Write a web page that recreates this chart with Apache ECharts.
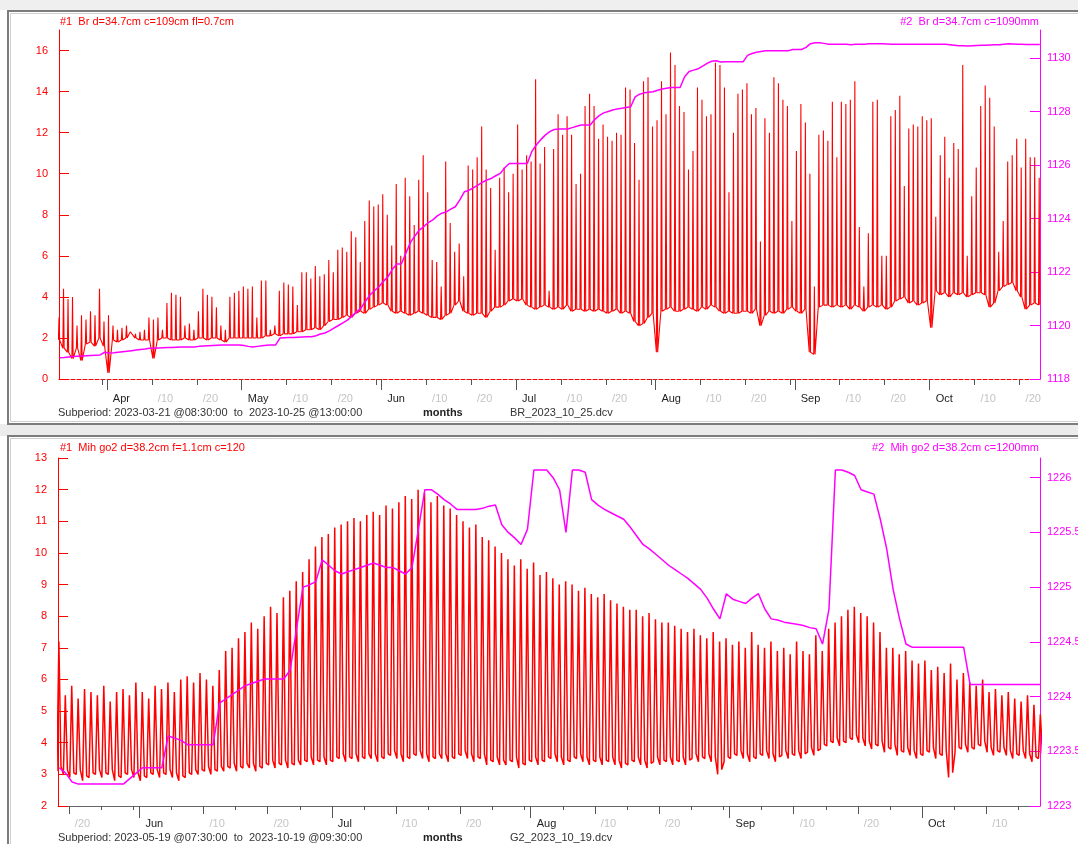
<!DOCTYPE html>
<html>
<head>
<meta charset="utf-8">
<title>Br / Mih go2</title>
<script src="https://cdn.jsdelivr.net/npm/echarts@6/dist/echarts.min.js"></script>
<style>
html, body { margin: 0; padding: 0; background: #fff; }
#chart { width: 1078px; height: 844px; }
</style>
</head>
<body>
<div id="chart"></div>
<script>
// ---- top panel (Br), one value per day from 2023-03-21 ----
const topPeak = [
  3.0, 4.4, 3.9, 4.0, 2.6, 3.1, 2.9, 3.3, 3.1, 4.4, 2.8,
  3.1, 2.6, 2.4, 2.5, 2.6, 2.3, 2.2, 2.3, 2.4, 3.0,
  2.9, 3.0, 2.4, 3.7, 4.2, 4.1, 4.0, 2.6, 2.7, 2.4,
  3.3, 4.4, 4.1, 4.0, 3.5, 2.6, 2.4, 4.0, 4.2, 4.3,
  4.5, 4.4, 4.5, 3.0, 4.8, 4.8, 2.4, 2.6, 4.3, 4.7,
  4.6, 4.5, 3.6, 5.2, 5.2, 4.9, 5.5, 5.0, 5.1, 5.8,
  5.2, 6.3, 6.4, 6.2, 7.2, 6.9, 5.7, 7.7, 8.7, 8.4,
  8.5, 9.0, 8.0, 6.5, 9.5, 6.0, 9.8, 8.9, 7.5, 9.7,
  10.9, 9.1, 5.8, 5.7, 4.5, 10.6, 7.6, 6.2, 6.6, 5.0,
  10.4, 10.2, 10.8, 12.3, 10.2, 9.3, 6.3, 9.8, 10.3, 9.1,
  10.0, 12.4, 10.2, 10.9, 10.6, 14.6, 10.5, 11.3, 4.3, 11.2,
  12.9, 11.9, 12.8, 11.9, 9.5, 10.0, 13.3, 13.9, 13.3, 11.7,
  12.4, 11.8, 11.6, 12.0, 11.9, 14.2, 14.1, 11.5, 9.7, 14.5,
  14.7, 12.3, 12.6, 14.5, 12.9, 15.9, 15.3, 13.3, 13.0, 10.2,
  11.1, 14.2, 13.6, 12.8, 12.9, 15.4, 15.3, 14.2, 9.1, 12.0,
  13.9, 14.1, 14.4, 12.9, 13.2, 6.7, 12.7, 12.0, 14.7, 14.4,
  13.6, 13.3, 7.7, 11.1, 13.4, 12.5, 10.0, 4.5, 11.9, 12.1,
  11.6, 13.5, 10.8, 13.5, 13.4, 13.6, 14.5, 7.4, 4.5, 7.1,
  13.5, 13.6, 6.0, 6.0, 12.8, 13.1, 13.8, 9.4, 12.2, 12.4,
  12.3, 12.8, 12.6, 12.7, 7.9, 10.9, 11.8, 9.8, 11.5, 11.2,
  15.3, 6.0, 8.9, 10.3, 13.3, 14.3, 13.7, 12.3, 6.2, 7.7,
  10.6, 10.9, 11.7, 10.3, 11.7, 10.8, 10.8, 9.8
];
const topTrough = [
  1.9, 1.5, 1.3, 1.0, 1.5, 0.9, 1.7, 1.8, 1.6, 2.0, 1.6,
  0.3, 1.9, 1.8, 1.9, 2.0, 2.3, 2.0, 1.9, 1.9, 1.9,
  1.0, 1.9, 2.0, 2.0, 1.9, 1.9, 1.9, 2.0, 1.9, 1.9,
  2.0, 2.0, 1.9, 2.0, 2.0, 1.9, 1.8, 2.0, 2.0, 2.0,
  2.0, 2.0, 2.0, 2.0, 2.0, 2.1, 2.1, 2.2, 2.1, 2.2,
  2.2, 2.2, 2.3, 2.3, 2.4, 2.4, 2.5, 2.4, 2.6, 2.8,
  2.9, 2.9, 3.0, 3.1, 3.0, 3.2, 3.3, 3.2, 3.4, 3.5,
  3.6, 3.7, 3.6, 3.3, 3.2, 3.3, 3.2, 3.1, 3.2, 3.3,
  3.2, 3.1, 3.0, 3.0, 2.9, 3.1, 3.2, 3.6, 3.8, 3.3,
  3.2, 3.1, 3.2, 3.2, 3.0, 3.3, 3.5, 3.5, 3.6, 3.8,
  3.9, 3.8, 3.9, 3.6, 3.5, 3.4, 3.5, 3.6, 3.5, 3.4,
  3.5, 3.4, 3.6, 3.3, 3.4, 3.4, 3.3, 3.4, 3.3, 3.4,
  3.3, 3.2, 3.3, 3.4, 3.2, 3.3, 3.2, 2.8, 2.6, 2.7,
  3.0, 3.2, 1.3, 3.3, 3.4, 3.5, 3.3, 3.3, 3.4, 3.5,
  3.4, 3.3, 3.5, 3.4, 3.6, 3.5, 3.3, 3.2, 3.3, 3.2,
  3.2, 3.3, 3.3, 3.2, 3.4, 2.6, 3.1, 3.3, 3.2, 3.3,
  3.2, 3.4, 3.5, 3.3, 3.2, 3.4, 1.3, 1.2, 3.5, 3.6,
  3.6, 3.5, 3.6, 3.5, 3.6, 3.4, 3.6, 3.5, 3.3, 3.5,
  3.6, 3.5, 3.6, 3.4, 3.5, 3.8, 3.9, 4.0, 3.7, 3.8,
  3.6, 3.7, 3.8, 2.5, 4.3, 4.1, 4.2, 4.0, 4.2, 4.1,
  4.2, 4.0, 4.1, 4.2, 4.2, 4.1, 3.5, 3.7, 4.3, 4.5,
  4.6, 4.7, 4.3, 4.0, 3.4, 3.6, 3.7, 3.6
];
const topRight = [
  1118.79, 1118.8, 1118.82, 1118.84, 1118.85, 1118.86, 1118.87, 1118.88, 1118.89, 1118.9, 1119.0,
  1118.97, 1118.98, 1119.0, 1119.02, 1119.04, 1119.06, 1119.08, 1119.1, 1119.12, 1119.15,
  1119.15, 1119.16, 1119.17, 1119.18, 1119.18, 1119.19, 1119.2, 1119.2, 1119.2, 1119.2,
  1119.22, 1119.23, 1119.24, 1119.25, 1119.26, 1119.27, 1119.27, 1119.27, 1119.27, 1119.27,
  1119.25, 1119.22, 1119.2, 1119.22, 1119.24, 1119.26, 1119.27, 1119.27, 1119.53, 1119.54,
  1119.55, 1119.55, 1119.56, 1119.57, 1119.58, 1119.58, 1119.62, 1119.68, 1119.72, 1119.8,
  1119.9, 1120.0, 1120.1, 1120.2, 1120.35, 1120.5, 1120.65, 1120.9, 1121.14, 1121.3,
  1121.45, 1121.65, 1121.82, 1122.1, 1122.3, 1122.3, 1122.7, 1123.1, 1123.35, 1123.57,
  1123.7, 1123.85, 1123.95, 1124.1, 1124.2, 1124.25, 1124.35, 1124.44, 1124.7, 1125.0,
  1125.05, 1125.15, 1125.25, 1125.35, 1125.44, 1125.5, 1125.6, 1125.69, 1125.9, 1126.06,
  1126.06, 1126.06, 1126.06, 1126.06, 1126.5, 1126.75, 1126.95, 1127.12, 1127.25, 1127.33,
  1127.35, 1127.35, 1127.35, 1127.4, 1127.45, 1127.5, 1127.5, 1127.5, 1127.7, 1127.85,
  1127.95, 1128.0, 1128.06, 1128.1, 1128.12, 1128.15, 1128.18, 1128.55, 1128.65, 1128.7,
  1128.72, 1128.74, 1128.8, 1128.84, 1128.87, 1128.9, 1128.9, 1128.9, 1129.3, 1129.5,
  1129.55, 1129.6, 1129.7, 1129.8, 1129.88, 1129.9, 1129.85, 1129.86, 1129.86, 1129.86,
  1129.86, 1129.86, 1130.1, 1130.17, 1130.22, 1130.25, 1130.27, 1130.27, 1130.27, 1130.27,
  1130.27, 1130.27, 1130.32, 1130.32, 1130.32, 1130.4, 1130.54, 1130.57, 1130.57, 1130.55,
  1130.52, 1130.52, 1130.52, 1130.52, 1130.52, 1130.5, 1130.52, 1130.52, 1130.52, 1130.54,
  1130.54, 1130.54, 1130.54, 1130.53, 1130.52, 1130.52, 1130.52, 1130.52, 1130.52, 1130.52,
  1130.52, 1130.52, 1130.52, 1130.52, 1130.52, 1130.52, 1130.52, 1130.5, 1130.48, 1130.46,
  1130.46, 1130.45, 1130.46, 1130.47, 1130.48, 1130.48, 1130.49, 1130.5, 1130.5, 1130.52,
  1130.54, 1130.53, 1130.52, 1130.52, 1130.51, 1130.51, 1130.51, 1130.51
];

// ---- bottom panel (Mih go2), one value per day from 2023-05-19 ----
const botPeak = [
  7.2, 5.5, 5.8, 5.4, 5.7, 5.6, 5.5, 5.8, 5.3, 5.6,
  5.7, 5.5, 5.9, 5.6, 5.4, 5.8, 5.7, 5.9, 5.6, 6.0,
  6.1, 5.9, 6.2, 6.0, 5.8, 6.3, 6.9, 7.0, 7.3, 7.5,
  7.8, 7.6, 8.0, 8.3, 8.1, 8.6, 8.8, 9.1, 9.4, 9.8,
  10.2, 10.5, 10.6, 10.8, 10.9, 11.0, 11.1, 11.0, 11.2, 11.3,
  11.2, 11.5, 11.4, 11.6, 11.8, 11.7, 12.0, 11.9, 11.6, 11.8,
  11.5, 11.4, 11.2, 11.0, 10.8, 10.9, 10.5, 10.4, 10.2, 10.0,
  9.8, 9.6, 9.8, 9.5, 9.7, 9.3, 9.4, 9.2, 9.0, 9.1,
  9.0, 8.8, 8.9, 8.7, 8.6, 8.7, 8.5, 8.4, 8.3, 8.2,
  8.2, 8.0, 8.1, 7.9, 7.8, 7.8, 7.7, 7.6, 7.5, 7.6,
  7.4, 7.3, 7.5, 7.2, 7.3, 7.1, 7.2, 7.0, 7.5, 7.1,
  7.0, 7.2, 6.9, 7.0, 6.8, 7.2, 6.9, 6.8, 7.4, 6.9,
  7.6, 7.8, 8.0, 8.2, 8.3, 8.1, 8.0, 7.8, 7.5, 7.0,
  7.0, 6.8, 6.9, 6.6, 6.5, 6.6, 6.3, 6.4, 6.2, 6.5,
  6.0, 6.2, 5.9, 5.8, 6.0, 5.6, 5.7, 5.5, 5.6, 5.4,
  5.3, 5.5, 5.2, 4.9
];
const botTrough = [
  3.1, 3.0, 2.9, 3.0, 2.8, 2.9, 3.0, 2.9, 3.0, 2.8,
  2.9, 3.0, 2.9, 2.8, 2.9, 3.0, 2.9, 3.0, 2.9, 2.8,
  2.9, 3.0, 3.0, 3.1, 3.0, 3.1, 3.1, 3.2, 3.1, 3.2,
  3.2, 3.1, 3.2, 3.3, 3.2, 3.3, 3.2, 3.3, 3.3, 3.4,
  3.3, 3.4, 3.3, 3.4, 3.5, 3.4, 3.5, 3.4, 3.5, 3.5,
  3.4, 3.5, 3.6, 3.5, 3.4, 3.5, 3.6, 3.5, 3.4, 3.5,
  3.5, 3.4, 3.5, 3.6, 3.5, 3.4, 3.5, 3.3, 3.4, 3.3,
  3.3, 3.4, 3.2, 3.3, 3.4, 3.3, 3.4, 3.5, 3.4, 3.3,
  3.4, 3.5, 3.4, 3.3, 3.4, 3.3, 3.4, 3.3, 3.2, 3.3,
  3.4, 3.3, 3.2, 3.4, 3.3, 3.4, 3.3, 3.4, 3.3, 3.5,
  3.4, 3.5, 3.4, 3.0, 3.4, 3.5, 3.6, 3.5, 3.4, 3.5,
  3.6, 3.5, 3.4, 3.6, 3.5, 3.6, 3.5, 3.7, 3.6, 3.8,
  3.9, 4.0, 3.9, 4.0, 4.1, 4.0, 3.9, 3.8, 3.9, 3.7,
  3.8, 3.6, 3.7, 3.6, 3.5, 3.6, 3.7, 3.5, 3.6, 2.9,
  3.7, 3.8, 3.7, 3.8, 3.9, 3.7, 3.6, 3.7, 3.6, 3.5,
  3.6, 3.5, 3.4, 3.5
];
const botRight = [
  1223.35, 1223.3, 1223.22, 1223.2, 1223.2, 1223.2, 1223.2, 1223.2, 1223.2, 1223.2,
  1223.2, 1223.25, 1223.3, 1223.35, 1223.35, 1223.35, 1223.35, 1223.64, 1223.62, 1223.6,
  1223.56, 1223.56, 1223.56, 1223.56, 1223.56, 1223.94, 1223.98, 1224.02, 1224.06, 1224.1,
  1224.12, 1224.14, 1224.16, 1224.16, 1224.16, 1224.16, 1224.24, 1224.62, 1225.0, 1225.02,
  1225.05, 1225.25, 1225.2, 1225.15, 1225.12, 1225.14, 1225.16, 1225.18, 1225.2, 1225.22,
  1225.2, 1225.18, 1225.18, 1225.15, 1225.12, 1225.18, 1225.53, 1225.89, 1225.89, 1225.85,
  1225.8, 1225.76, 1225.71, 1225.71, 1225.71, 1225.71, 1225.72, 1225.74, 1225.75, 1225.57,
  1225.5, 1225.45, 1225.39, 1225.53, 1226.07, 1226.07, 1226.07, 1226.0, 1225.89, 1225.5,
  1226.07, 1226.07, 1226.05, 1225.8, 1225.75, 1225.71, 1225.68, 1225.65, 1225.62, 1225.55,
  1225.47, 1225.39, 1225.35, 1225.3, 1225.25, 1225.2, 1225.16, 1225.12, 1225.08, 1225.03,
  1224.98, 1224.9, 1224.8, 1224.71, 1224.94, 1224.89, 1224.87, 1224.85, 1224.9, 1224.94,
  1224.8, 1224.71, 1224.7, 1224.68, 1224.67, 1224.66, 1224.65, 1224.63, 1224.62, 1224.48,
  1224.8, 1226.07, 1226.07, 1226.05, 1226.02, 1225.89, 1225.87, 1225.85, 1225.62, 1225.35,
  1224.98, 1224.71, 1224.48, 1224.45, 1224.45, 1224.45, 1224.45, 1224.45, 1224.45, 1224.45,
  1224.45, 1224.45, 1224.11, 1224.11, 1224.11, 1224.11, 1224.11, 1224.11, 1224.11, 1224.11,
  1224.11, 1224.11, 1224.11, 1224.11
];

// tick labels
const topLeftTicks = [0, 2, 4, 6, 8, 10, 12, 14, 16];
const topRightTicks = [1118, 1120, 1122, 1124, 1126, 1128, 1130];
const botLeftTicks = [2, 3, 4, 5, 6, 7, 8, 9, 10, 11, 12, 13];
const botRightTicks = [1223, 1223.5, 1224, 1224.5, 1225, 1225.5, 1226];
const monthNames = ['Jan', 'Feb', 'Mar', 'Apr', 'May', 'Jun', 'Jul', 'Aug', 'Sep', 'Oct', 'Nov', 'Dec'];

const DAY = 86400000;
const topStart = Date.UTC(2023, 2, 21);
const topMin = Date.UTC(2023, 2, 21, 8, 30);
const topMax = Date.UTC(2023, 9, 25, 13, 0);
const botStart = Date.UTC(2023, 4, 19);
const botMin = Date.UTC(2023, 4, 19, 7, 30);
const botMax = Date.UTC(2023, 9, 19, 9, 30);

const RED = '#ff0000';
const MAG = '#ff00ff';
const FONT = '"Liberation Sans", Arial, sans-serif';

// midnight timestamps whose day-of-month is in `days`
function daysOn(min, max, days) {
  const out = [];
  const d0 = new Date(min);
  let t = Date.UTC(d0.getUTCFullYear(), d0.getUTCMonth(), d0.getUTCDate());
  for (; t <= max; t += DAY) {
    if (t >= min && days.indexOf(new Date(t).getUTCDate()) >= 0) out.push(t);
  }
  return out;
}

function labelFmt(v) {
  const d = new Date(v);
  const day = d.getUTCDate();
  if (day === 1) return '{m|' + monthNames[d.getUTCMonth()] + '}';
  if (day === 11) return '{g|/10}';
  if (day === 21) return '{g|/20}';
  return '';
}

// spikes: trough -> peak -> trough within the day
const topRed = [];
topPeak.forEach((p, i) => {
  const t = topStart + i * DAY;
  topRed.push([t + 0.22 * DAY, topTrough[i]]);
  topRed.push([t + 0.36 * DAY, p]);
  topRed.push([t + 0.5 * DAY, topTrough[i]]);
});
const topMag = topRight.map((v, i) => [topStart + i * DAY + 0.5 * DAY, v]);

const botRed = [];
botPeak.forEach((p, i) => {
  const t = botStart + i * DAY;
  botRed.push([t + 0.15 * DAY, botTrough[i]]);
  botRed.push([t + 0.45 * DAY, p]);
  botRed.push([t + 0.78 * DAY, botTrough[i] + 0.15]);
});
const botMag = botRight.map((v, i) => [botStart + i * DAY + 0.5 * DAY, v]);

const labelRich = {
  m: { color: '#222', fontSize: 11, fontFamily: FONT },
  g: { color: '#c4c4c4', fontSize: 11, fontFamily: FONT }
};

function tickAxis(grid, min, max, values, len) {
  return {
    type: 'value', gridIndex: grid, min: min, max: max, position: 'bottom', scale: true,
    axisLine: { show: false },
    axisTick: { show: true, customValues: values, length: len, lineStyle: { color: '#555' } },
    axisLabel: { show: false },
    splitLine: { show: false }
  };
}

function yAxisOf(grid, pos, min, max, ticks, color) {
  return {
    type: 'value', gridIndex: grid, position: pos, min: min, max: max,
    axisLine: { show: true, lineStyle: { color: color, width: 1 } },
    axisTick: { show: true, inside: true, length: 10, customValues: ticks, lineStyle: { color: color } },
    axisLabel: {
      customValues: ticks, color: color, fontSize: 11, fontFamily: FONT,
      margin: pos === 'left' ? 11 : 7,
      formatter: (v) => String(v)
    },
    splitLine: { show: false }
  };
}

const chart = echarts.init(document.getElementById('chart'));
const option = {
  animation: false,
  backgroundColor: '#ffffff',
  grid: [
    { left: 59, top: 30, width: 981, height: 349, outerBoundsMode: 'none' },
    { left: 58, top: 458, width: 982, height: 348, outerBoundsMode: 'none' }
  ],
  xAxis: [
    {
      type: 'value', gridIndex: 0, min: topMin, max: topMax, position: 'bottom', scale: true,
      axisLine: { show: true, onZero: false, lineStyle: { color: RED, type: 'dashed', width: 1 } },
      axisTick: { show: true, customValues: daysOn(topMin, topMax, [1, 11, 21, 31]), length: 6, lineStyle: { color: '#555' } },
      axisLabel: {
        customValues: daysOn(topMin, topMax, [1, 11, 21]), formatter: labelFmt, rich: labelRich,
        align: 'left', padding: [0, 0, 0, 6], margin: 14, hideOverlap: false
      },
      splitLine: { show: false }
    },
    tickAxis(0, topMin, topMax, daysOn(topMin, topMax, [1]), 11),
    {
      type: 'value', gridIndex: 1, min: botMin, max: botMax, position: 'bottom', scale: true,
      axisLine: { show: true, onZero: false, lineStyle: { color: '#666', width: 1 } },
      axisTick: { show: true, customValues: daysOn(botMin, botMax, [11, 21]), length: 8, lineStyle: { color: '#555' } },
      axisLabel: {
        customValues: daysOn(botMin, botMax, [1, 11, 21]), formatter: labelFmt, rich: labelRich,
        align: 'left', padding: [0, 0, 0, 6], margin: 12, hideOverlap: false
      },
      splitLine: { show: false }
    },
    tickAxis(1, botMin, botMax, daysOn(botMin, botMax, [6, 16, 26, 31]), 4),
    tickAxis(1, botMin, botMax, daysOn(botMin, botMax, [1]), 12)
  ],
  yAxis: [
    yAxisOf(0, 'left', 0, 17, topLeftTicks, RED),
    yAxisOf(0, 'right', 1118, 1131.05, topRightTicks, MAG),
    yAxisOf(1, 'left', 2, 13, botLeftTicks, RED),
    yAxisOf(1, 'right', 1223, 1226.18, botRightTicks, MAG)
  ],
  series: [
    {
      type: 'line', xAxisIndex: 0, yAxisIndex: 0, data: topRed, showSymbol: false,
      lineStyle: { color: RED, width: 1.1 }, itemStyle: { color: RED }, clip: true, z: 2
    },
    {
      type: 'line', xAxisIndex: 0, yAxisIndex: 1, data: topMag, showSymbol: false,
      lineStyle: { color: MAG, width: 1.5 }, itemStyle: { color: MAG }, clip: true, z: 3
    },
    {
      type: 'line', xAxisIndex: 2, yAxisIndex: 2, data: botRed, showSymbol: false,
      lineStyle: { color: RED, width: 1.5 }, itemStyle: { color: RED }, clip: true, z: 2
    },
    {
      type: 'line', xAxisIndex: 2, yAxisIndex: 3, data: botMag, showSymbol: false,
      lineStyle: { color: MAG, width: 1.5 }, itemStyle: { color: MAG }, clip: true, z: 3
    }
  ],
  graphic: [
    { type: 'rect', silent: true, z: -10, shape: { x: 0, y: 0, width: 1078, height: 10 }, style: { fill: '#efefef' } },
    { type: 'rect', silent: true, z: -10, shape: { x: 0, y: 424, width: 1078, height: 12 }, style: { fill: '#ececec' } },
    { type: 'rect', silent: true, shape: { x: 8, y: 11, width: 1100, height: 413 }, style: { fill: null, stroke: '#7c7c7c', lineWidth: 2 } },
    { type: 'rect', silent: true, shape: { x: 10.5, y: 13.5, width: 1100, height: 408 }, style: { fill: null, stroke: '#d0d0d0', lineWidth: 1 } },
    { type: 'rect', silent: true, shape: { x: 8, y: 436, width: 1100, height: 420 }, style: { fill: null, stroke: '#7c7c7c', lineWidth: 2 } },
    { type: 'rect', silent: true, shape: { x: 10.5, y: 438.5, width: 1100, height: 420 }, style: { fill: null, stroke: '#d0d0d0', lineWidth: 1 } },

    { type: 'text', x: 60, y: 22, style: { text: '#1  Br d=34.7cm c=109cm fl=0.7cm', fill: RED, font: '11px ' + FONT, verticalAlign: 'middle' } },
    { type: 'text', x: 1039, y: 22, style: { text: '#2  Br d=34.7cm c=1090mm', fill: MAG, font: '11px ' + FONT, align: 'right', verticalAlign: 'middle' } },
    { type: 'text', x: 58, y: 413, style: { text: 'Subperiod: 2023-03-21 @08:30:00  to  2023-10-25 @13:00:00', fill: '#333', font: '11px ' + FONT, verticalAlign: 'middle' } },
    { type: 'text', x: 423, y: 413, style: { text: 'months', fill: '#222', font: 'bold 11px ' + FONT, verticalAlign: 'middle' } },
    { type: 'text', x: 510, y: 413, style: { text: 'BR_2023_10_25.dcv', fill: '#333', font: '11px ' + FONT, verticalAlign: 'middle' } },

    { type: 'text', x: 60, y: 448, style: { text: '#1  Mih go2 d=38.2cm f=1.1cm c=120', fill: RED, font: '11px ' + FONT, verticalAlign: 'middle' } },
    { type: 'text', x: 1039, y: 448, style: { text: '#2  Mih go2 d=38.2cm c=1200mm', fill: MAG, font: '11px ' + FONT, align: 'right', verticalAlign: 'middle' } },
    { type: 'text', x: 58, y: 838, style: { text: 'Subperiod: 2023-05-19 @07:30:00  to  2023-10-19 @09:30:00', fill: '#333', font: '11px ' + FONT, verticalAlign: 'middle' } },
    { type: 'text', x: 423, y: 838, style: { text: 'months', fill: '#222', font: 'bold 11px ' + FONT, verticalAlign: 'middle' } },
    { type: 'text', x: 510, y: 838, style: { text: 'G2_2023_10_19.dcv', fill: '#333', font: '11px ' + FONT, verticalAlign: 'middle' } }
  ]
};
chart.setOption(option);
</script>
</body>
</html>
